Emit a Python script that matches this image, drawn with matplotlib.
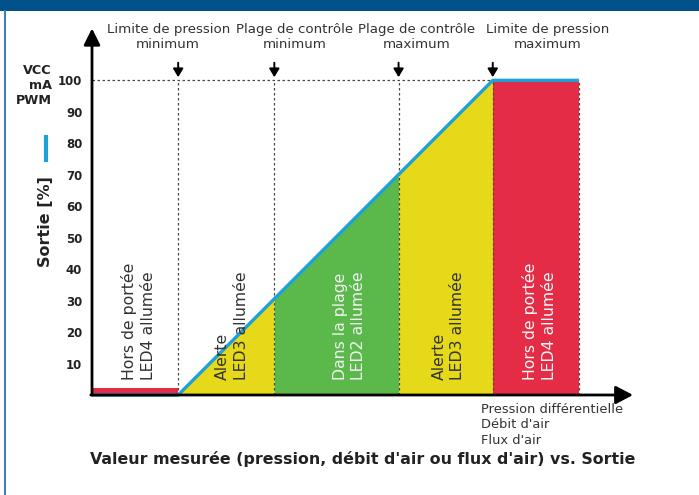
import matplotlib
matplotlib.use("Agg")
import matplotlib.pyplot as plt
import numpy as np
from matplotlib.patches import Rectangle
from matplotlib.lines import Line2D

# ---- data ----
boundaries = [0, 21.5, 45.5, 76.5, 100, 121.5]          # measured value (arbitrary units)
curve_x = [0, 21.5, 100, 121.5]                          # output curve
curve_y = [0, 0, 100, 100]
zone_names = ["Hors de portée\nLED4 allumée", "Alerte\nLED3 allumée",
              "Dans la plage\nLED2 allumée", "Alerte\nLED3 allumée",
              "Hors de portée\nLED4 allumée"]
marker_labels = ["Limite de pression\nminimum", "Plage de contrôle\nminimum",
                 "Plage de contrôle\nmaximum", "Limite de pression\nmaximum"]
y_ticks = [10, 20, 30, 40, 50, 60, 70, 80, 90, 100]
low_strip = 2.3

RED = "#e52c46"
YEL = "#e5d91a"
GRN = "#5bb94b"
BLUE = "#1ea1d8"
DARK = "#333333"

fig = plt.figure(figsize=(6.99, 4.95), dpi=100)
fig.patch.set_facecolor("white")
# header band and left border
fig.patches.append(Rectangle((0, 1 - 11 / 495), 1, 11 / 495, transform=fig.transFigure,
                             facecolor="#01518b", edgecolor="none"))
fig.lines.append(Line2D([4.5 / 699, 4.5 / 699], [0, 1 - 11 / 495], transform=fig.transFigure,
                        color="#3f7cb4", lw=1.5))

ax = fig.add_axes([92 / 699, 100 / 495, (633 - 92) / 699, 365 / 495])
ax.set_xlim(0, 135)
ax.set_ylim(0, 116)
for s in ax.spines.values():
    s.set_visible(False)
ax.set_xticks([])
ax.set_yticks(y_ticks)
ax.set_yticklabels([str(t) for t in y_ticks], fontweight="bold", fontsize=8.5, color="#222222")
ax.tick_params(axis="y", length=0, pad=7)
ax.patch.set_alpha(0)

def interp(x):
    return float(np.interp(x, curve_x, curve_y))

# zones
ax.fill_between([boundaries[0], boundaries[1]], [0, 0], [low_strip, low_strip], color=RED, lw=0, zorder=1)
zone_cols = [None, YEL, GRN, YEL, RED]
for i in range(1, 5):
    x0, x1 = boundaries[i], boundaries[i + 1]
    ax.fill_between([x0, x1], [0, 0], [interp(x0), interp(x1)], color=zone_cols[i], lw=0, zorder=1)

# dotted guides
for b in boundaries[1:]:
    ax.plot([b, b], [0, 100], color="#4a4a3a", lw=0.9, ls=(0, (2, 2)), zorder=2)
ax.plot([0, boundaries[4]], [100, 100], color="#4a4a3a", lw=0.9, ls=(0, (2, 2)), zorder=2)

# output curve
ax.plot(curve_x, curve_y, color=BLUE, lw=2.4, zorder=4, solid_capstyle="butt", clip_on=False)

# axes arrows
ax.annotate("", xy=(0, 116.5), xytext=(0, 0),
            arrowprops=dict(arrowstyle="-|>,head_length=0.9,head_width=0.45", color="black",
                            lw=2, mutation_scale=11, shrinkA=0, shrinkB=0), zorder=5, annotation_clip=False)
ax.annotate("", xy=(135, 0), xytext=(-0.3, 0),
            arrowprops=dict(arrowstyle="-|>,head_length=0.95,head_width=0.5", color="black",
                            lw=2, mutation_scale=11, shrinkA=0, shrinkB=0), zorder=5, annotation_clip=False)

# marker arrows and labels
label_x = [19.0, 50.5, 81.0, 113.7]
for b, lab, lx in zip(boundaries[1:5], marker_labels, label_x):
    ax.annotate("", xy=(b, 101), xytext=(b, 105.6),
                arrowprops=dict(arrowstyle="-|>,head_length=0.5,head_width=0.3", color="black",
                                lw=1.4, mutation_scale=10, shrinkA=0, shrinkB=0), annotation_clip=False)
    ax.text(lx, 113.8, lab, ha="center", va="center", fontsize=9.6, color=DARK,
            linespacing=1.2, clip_on=False)

# zone labels
zone_x = [11.6, 34.9, 64.3, 89.0, 111.7]
zone_tc = [DARK, DARK, "#f2f2f2", DARK, "#f7f7f7"]
for zx, name, tc in zip(zone_x, zone_names, zone_tc):
    ax.text(zx, 4.9, name, rotation=90, ha="center", va="bottom", multialignment="left",
            fontsize=11.3, color=tc, linespacing=1.3, zorder=6)

# y-axis side labels
ax.text(-10, 98.5, "VCC\nmA\nPWM", ha="right", va="center", fontweight="bold", fontsize=9.2,
        color="#222222", linespacing=1.2, clip_on=False)
ax.plot([-11.5, -11.5], [74.2, 82.5], color=BLUE, lw=3, clip_on=False, solid_capstyle="butt")
ax.text(-11.5, 55.1, "Sortie [%]", rotation=90, ha="center", va="center", fontweight="bold",
        fontsize=11.5, color="#222222", clip_on=False)

# x-axis side label
ax.text(97, -2.4, "Pression différentielle\nDébit d'air\nFlux d'air", ha="left", va="top",
        fontsize=9.4, color=DARK, linespacing=1.25, clip_on=False)

fig.text(363 / 699, 1 - 459 / 495, "Valeur mesurée (pression, débit d'air ou flux d'air) vs. Sortie",
         ha="center", va="center", fontweight="bold", fontsize=11.4, color="#222222")

fig.savefig("out.png", dpi=100)
